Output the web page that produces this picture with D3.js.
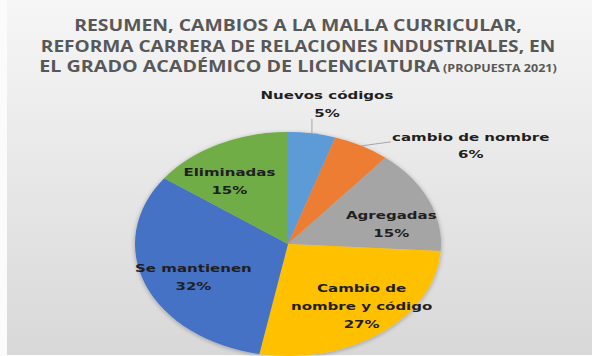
<!DOCTYPE html>
<html>
<head>
<meta charset="utf-8">
<script src="https://cdn.jsdelivr.net/npm/d3@7"></script>
<style>
  html, body { margin: 0; padding: 0; background: #ffffff; }
  svg { display: block; }
</style>
</head>
<body>
<svg id="chart" width="592" height="356"></svg>
<script>
// ---- data ----
const titleLines = [
  "RESUMEN, CAMBIOS A LA MALLA CURRICULAR,",
  "REFORMA CARRERA DE RELACIONES INDUSTRIALES, EN",
  "EL GRADO ACADÉMICO DE LICENCIATURA"
];
const titleNote = "(PROPUESTA 2021)";

const categories = [
  "Nuevos códigos",
  "cambio de nombre",
  "Agregadas",
  "Cambio de nombre y código",
  "Se mantienen",
  "Eliminadas"
];
const values = [5, 6, 15, 27, 32, 15];
const sliceColors = ["#5B9BD5", "#ED7D31", "#A5A5A5", "#FFC000", "#4472C4", "#70AD47"];

// ---- layout ----
const W = 592, H = 356;
const cx = 288, cy = 244;
const R = 112;            // vertical radius
const sx = 153 / 112;     // the chart is drawn horizontally stretched
const labelFont = 11, labelLH = 17.7;
const titleWidths = [448, 515, 518];   // rendered width of each title line

// how each category name is broken into lines
const labelBreaks = { "Cambio de nombre y código": ["Cambio de", "nombre y código"] };
// labels drawn outside the pie, with a leader line
const outside = {
  "Nuevos códigos":   { line: [0, -14.5], text: [15, -29.5] },
  "cambio de nombre": { line: [29, -4],   text: [109, -0.5] }
};
// fine placement of labels drawn inside the slices (screen px)
const insideNudge = {
  "Agregadas": [5, 11],
  "Cambio de nombre y código": [8, 0],
  "Se mantienen": [5, 4],
  "Eliminadas": [-10, 7]
};

const svg = d3.select("#chart");
const defs = svg.append("defs");

const grad = defs.append("linearGradient")
  .attr("id", "bg").attr("x1", 0).attr("y1", 0).attr("x2", 0).attr("y2", 1);
grad.append("stop").attr("offset", "0%").attr("stop-color", "#f6f6f6");
grad.append("stop").attr("offset", "100%").attr("stop-color", "#d8d8d8");

defs.append("clipPath").attr("id", "plotClip")
  .append("rect").attr("x", 7).attr("y", 0).attr("width", W - 7).attr("height", 356);

const shadow = defs.append("filter").attr("id", "soft")
  .attr("x", "-10%").attr("y", "-10%").attr("width", "120%").attr("height", "120%");
shadow.append("feGaussianBlur").attr("in", "SourceAlpha").attr("stdDeviation", 2).attr("result", "b");
shadow.append("feOffset").attr("in", "b").attr("dx", 0).attr("dy", 1).attr("result", "o");
shadow.append("feComponentTransfer").attr("in", "o").attr("result", "s")
  .append("feFuncA").attr("type", "linear").attr("slope", 0.3);
const merge = shadow.append("feMerge");
merge.append("feMergeNode").attr("in", "s");
merge.append("feMergeNode").attr("in", "SourceGraphic");

// background panel
svg.append("rect").attr("width", W).attr("height", H).attr("fill", "#fbfbfb");
svg.append("rect").attr("x", 7).attr("y", 0).attr("width", W - 7).attr("height", 355)
  .attr("fill", "url(#bg)");

// ---- title ----
const titleG = svg.append("g");
titleLines.forEach((line, i) => {
  const t = titleG.append("text")
    .attr("x", 0).attr("y", 0)
    .attr("text-anchor", "middle")
    .attr("font-family", "'Open Sans', Lato, sans-serif")
    .attr("font-weight", 700)
    .attr("font-size", 16.5)
    .attr("fill", "#585858")
    .text(line);
  if (i === titleLines.length - 1) {
    t.append("tspan").attr("font-size", 10.5).text(" " + titleNote);
  }
  const w = t.node().getComputedTextLength();
  t.attr("transform", `translate(298,${31 + i * 20.5}) scale(${titleWidths[i] / w},1)`);
});

// ---- pie ----
const pie = d3.pie().sort(null).value(d => d.value).startAngle(0).endAngle(2 * Math.PI);
const arcs = pie(categories.map((c, i) => ({ name: c, value: values[i], color: sliceColors[i] })));
const arc = d3.arc().innerRadius(0).outerRadius(R);

const plot = svg.append("g").attr("clip-path", "url(#plotClip)");
const pieG = plot.append("g")
  .attr("transform", `translate(${cx},${cy}) scale(${sx},1)`)
  .attr("filter", "url(#soft)");
pieG.selectAll("path")
  .data(arcs)
  .join("path")
  .attr("d", arc)
  .attr("fill", d => d.data.color);

// screen position of a point on the (stretched) pie at angle a, radius r
function toScreen(a, r) {
  return [cx + sx * r * Math.sin(a), cy - r * Math.cos(a)];
}

const labelG = svg.append("g");
arcs.forEach(d => {
  const name = d.data.name;
  const mid = (d.startAngle + d.endAngle) / 2;
  const lines = (labelBreaks[name] || [name]).concat([d.data.value + "%"]);
  let pos;
  if (outside[name]) {
    const edge = toScreen(mid, R);
    const o = outside[name];
    labelG.append("line")
      .attr("x1", edge[0]).attr("y1", edge[1])
      .attr("x2", edge[0] + o.line[0]).attr("y2", edge[1] + o.line[1])
      .attr("stroke", "#a6a6a6").attr("stroke-width", 1);
    pos = [edge[0] + o.text[0], edge[1] + o.text[1]];
  } else {
    const c = toScreen(mid, R * 0.7);
    const n = insideNudge[name] || [0, 0];
    pos = [c[0] + n[0], c[1] + n[1]];
  }
  const t = labelG.append("text")
    .attr("transform", `translate(${pos[0]},${pos[1]}) scale(${sx},1)`)
    .attr("text-anchor", "middle")
    .attr("font-family", "'DejaVu Sans', Verdana, sans-serif")
    .attr("font-weight", 700)
    .attr("font-size", labelFont)
    .attr("fill", "#1f1f1f");
  lines.forEach((ln, i) => {
    t.append("tspan")
      .attr("x", 0)
      .attr("y", (i - (lines.length - 1) / 2) * labelLH + labelFont * 0.37)
      .text(ln);
  });
});
</script>
</body>
</html>
